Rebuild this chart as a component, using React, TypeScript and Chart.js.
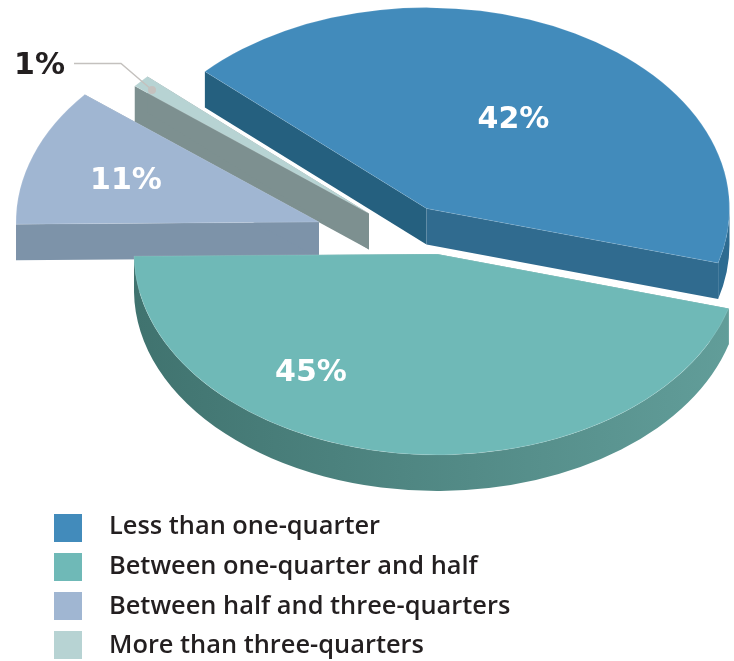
import React, { useEffect, useRef } from "react";
import { Chart, registerables } from "chart.js";

Chart.register(...registerables);

// Share of respondents per answer band, in percent.
const categories = [
  "Less than one-quarter",
  "Between one-quarter and half",
  "Between half and three-quarters",
  "More than three-quarters",
];
const shares = [42, 45, 11, 1];
const topColors = ["#428bbb", "#6fb9b7", "#a0b6d2", "#b7d3d3"];

const WIDTH = 734;
const HEIGHT = 661;

type Face = string | [string, string];

// Where each wedge sits after being pulled out of the pie, plus its side colours.
const wedgeStyles = [
  { cx: 426.5, cy: 208.5, labelX: 513.5, labelY: 120, startWall: "#25607f", endWall: "#306b8f", rim: "#2d6b91" as Face },
  { cx: 437, cy: 254, labelX: 311, labelY: 373, startWall: "#5f9d99", endWall: "#5f9d99", rim: ["#40736f", "#629e9a"] as Face },
  { cx: 319, cy: 222, labelX: 126, labelY: 181.5, startWall: "#7d93a9", endWall: "#7d93a9", rim: "#7d93a9" as Face },
  { cx: 369, cy: 213.5, labelX: 39.5, labelY: 66.5, startWall: "#7d9090", endWall: "#7d9090", rim: "#7d9090" as Face },
];

const TILT = 0.663; // vertical squash of the pie disc
const DEPTH = 36; // height of the extruded sides
const PAINT_ORDER = [0, 3, 2, 1];

const tiltedPie = {
  id: "tiltedPie",
  beforeDatasetsDraw(chart: any) {
    const ctx: CanvasRenderingContext2D = chart.ctx;
    const arcs = chart.getDatasetMeta(0).data;

    for (const i of PAINT_ORDER) {
      const arc = arcs[i];
      const style = wedgeStyles[i];
      const { x, y, startAngle, endAngle, outerRadius } = arc.getProps(
        ["x", "y", "startAngle", "endAngle", "outerRadius"],
        true
      );
      const rx = outerRadius;
      const ry = outerRadius * TILT;
      const { cx, cy } = style;
      const rim = (a: number) => [cx + rx * Math.cos(a), cy + ry * Math.sin(a)];

      // Flat cut faces running from the apex to the rim.
      const cutFace = (a: number, color: string) => {
        const [px, py] = rim(a);
        ctx.beginPath();
        ctx.moveTo(cx, cy);
        ctx.lineTo(px, py);
        ctx.lineTo(px, py + DEPTH);
        ctx.lineTo(cx, cy + DEPTH);
        ctx.closePath();
        ctx.fillStyle = color;
        ctx.fill();
      };
      cutFace(startAngle, style.startWall);
      cutFace(endAngle, style.endWall);

      // Curved outer face, only along the front half of the ellipse.
      const tau = Math.PI * 2;
      const a0 = ((startAngle % tau) + tau) % tau;
      const a1 = a0 + (endAngle - startAngle);
      for (const k of [0, 1]) {
        const from = Math.max(a0, k * tau);
        const to = Math.min(a1, k * tau + Math.PI);
        if (to <= from) continue;
        ctx.beginPath();
        ctx.ellipse(cx, cy, rx, ry, 0, from, to);
        ctx.ellipse(cx, cy + DEPTH, rx, ry, 0, to, from, true);
        ctx.closePath();
        if (Array.isArray(style.rim)) {
          const g = ctx.createLinearGradient(cx - rx, 0, cx + rx, 0);
          g.addColorStop(0, style.rim[0]);
          g.addColorStop(1, style.rim[1]);
          ctx.fillStyle = g;
        } else {
          ctx.fillStyle = style.rim;
        }
        ctx.fill();
      }

      // Top surface: the library's own arc element, drawn through the tilt.
      ctx.save();
      ctx.translate(cx, cy);
      ctx.scale(1, TILT);
      ctx.translate(-x, -y);
      arc.draw(ctx);
      ctx.restore();
    }

    // Percent labels.
    ctx.font = "bold 30px 'DejaVu Sans'";
    ctx.textAlign = "center";
    ctx.textBaseline = "middle";
    shares.forEach((value, i) => {
      ctx.fillStyle = i === 3 ? "#231f20" : "#ffffff";
      ctx.fillText(`${value}%`, wedgeStyles[i].labelX, wedgeStyles[i].labelY);
    });

    // Leader line for the smallest wedge.
    ctx.strokeStyle = "#c4c1be";
    ctx.lineWidth = 1.4;
    ctx.beginPath();
    ctx.moveTo(74, 63.5);
    ctx.lineTo(121, 63.5);
    ctx.lineTo(152, 90);
    ctx.stroke();
    ctx.fillStyle = "#c4c1be";
    ctx.beginPath();
    ctx.arc(152, 90, 4, 0, Math.PI * 2);
    ctx.fill();

    // Legend column.
    ctx.textAlign = "left";
    ctx.font = "600 25.4px 'Open Sans'";
    categories.forEach((name, i) => {
      const top = 514 + i * 39;
      ctx.fillStyle = topColors[i];
      ctx.fillRect(54, top, 28, 28);
      ctx.fillStyle = "#231f20";
      ctx.fillText(name, 109, 527 + i * 39.7);
    });

    return false;
  },
};

export default function App() {
  const canvasRef = useRef<HTMLCanvasElement>(null);

  useEffect(() => {
    const chart = new Chart(canvasRef.current as HTMLCanvasElement, {
      type: "pie",
      data: {
        labels: categories,
        datasets: [
          {
            data: shares,
            backgroundColor: topColors,
            borderWidth: 0.8,
            borderColor: "rgba(255,255,255,0.2)",
            radius: 303,
          } as any,
        ],
      },
      options: {
        animation: false,
        responsive: false,
        rotation: -47,
        plugins: { legend: { display: false }, tooltip: { enabled: false } },
      },
      plugins: [tiltedPie],
    });
    return () => chart.destroy();
  }, []);

  return (
    <div style={{ position: "absolute", left: 0, top: 0, width: WIDTH, height: HEIGHT, background: "#fff" }}>
      <canvas ref={canvasRef} width={WIDTH} height={HEIGHT} style={{ display: "block" }} />
    </div>
  );
}
